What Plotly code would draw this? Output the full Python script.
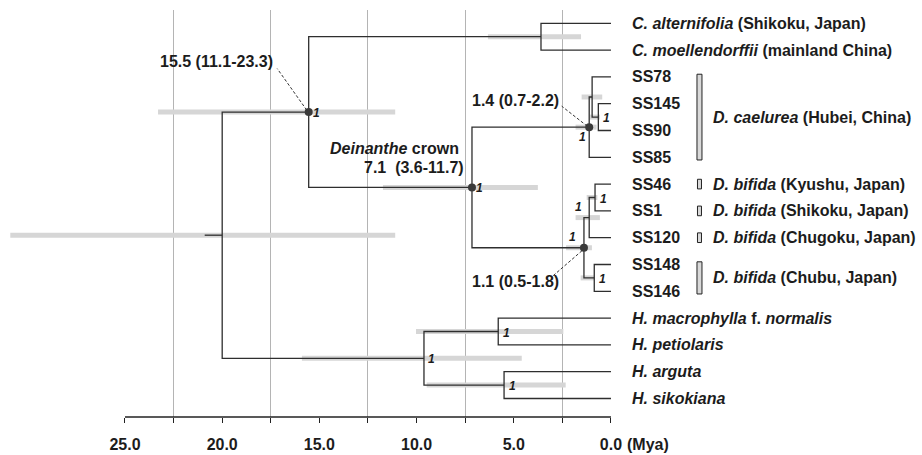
import plotly.graph_objects as go

# ---------------- data ----------------
leaf_names = ["C. alternifolia", "C. moellendorffii", "SS78", "SS145", "SS90", "SS85",
              "SS46", "SS1", "SS120", "SS148", "SS146",
              "H. macrophylla f. normalis", "H. petiolaris", "H. arguta", "H. sikokiana"]
leaf_labels = ["<i>C. alternifolia</i> (Shikoku, Japan)",
               "<i>C. moellendorffii</i> (mainland China)",
               "SS78", "SS145", "SS90", "SS85", "SS46", "SS1", "SS120", "SS148", "SS146",
               "<i>H. macrophylla</i> f. <i>normalis</i>",
               "<i>H. petiolaris</i>", "<i>H. arguta</i>", "<i>H. sikokiana</i>"]

node_ids = ["root", "N15", "Ccl", "Dein", "A", "B", "C2", "D", "E", "F", "G", "H", "I", "J"]
node_children = [("N15", "H"), ("Ccl", "Dein"), ("C. alternifolia", "C. moellendorffii"),
                 ("A", "D"), ("B", "SS85"), ("SS78", "C2"), ("SS145", "SS90"),
                 ("E", "G"), ("F", "SS120"), ("SS46", "SS1"), ("SS148", "SS146"),
                 ("I", "J"), ("H. macrophylla f. normalis", "H. petiolaris"),
                 ("H. arguta", "H. sikokiana")]
node_age = [20.0, 15.55, 3.6, 7.15, 1.12, 0.97, 0.65, 1.39, 1.12, 0.82, 0.86, 9.62, 5.8, 5.5]
hpd_old = [30.9, 23.3, 6.33, 11.73, 1.82, 1.51, 1.08, 2.31, 1.82, 1.25, 1.56, 15.9, 10.03, 9.48]
hpd_young = [11.1, 11.1, 1.54, 3.76, 0.74, 0.45, 0.57, 0.98, 0.57, 0.70, 0.86, 4.59, 2.45, 2.33]
support = ["", "1", "", "1", "1", "", "1", "1", "1", "1", "1", "1", "1", "1"]
support_side = ["", "r", "", "r", "bl", "", "r", "tl", "tl", "r", "r", "r", "r", "r"]
dotted_nodes = ["N15", "Dein", "A", "D"]
root_stem_age = 20.9

age_notes = {"N15": "15.5 (11.1-23.3)", "A": "1.4 (0.7-2.2)", "D": "1.1 (0.5-1.8)"}
crown_title = "<i>Deinanthe</i> crown"
crown_value = "7.1\u00a0 (3.6-11.7)"

groups = [("<i>D. caelurea</i> (Hubei, China)", ["SS78", "SS145", "SS90", "SS85"]),
          ("<i>D. bifida</i> (Kyushu, Japan)", ["SS46"]),
          ("<i>D. bifida</i> (Shikoku, Japan)", ["SS1"]),
          ("<i>D. bifida</i> (Chugoku, Japan)", ["SS120"]),
          ("<i>D. bifida</i> (Chubu, Japan)", ["SS148", "SS146"])]

major_ticks = [25.0, 20.0, 15.0, 10.0, 5.0, 0.0]
major_labels = ["25.0", "20.0", "15.0", "10.0", "5.0", "0.0"]
minor_ticks = [22.5, 17.5, 12.5, 7.5, 2.5]
axis_unit = "(Mya)"

# ---------------- layout computation ----------------
FONT = "Liberation Sans, Arial, Helvetica, sans-serif"
TXT = "#1c1c1c"
LINE = "#2e2e2e"
BAR = "#d6d6d6"

children = dict(zip(node_ids, node_children))
age = {n: 0.0 for n in leaf_names}
age.update(dict(zip(node_ids, node_age)))
ypos = {n: float(i) for i, n in enumerate(leaf_names)}


def gety(n):
    if n in ypos:
        return ypos[n]
    ys = [gety(c) for c in children[n]]
    ypos[n] = sum(ys) / len(ys)
    return ypos[n]


gety("root")

fig = go.Figure()

# HPD bars
bx, by = [], []
for n, lo, hi in zip(node_ids, hpd_old, hpd_young):
    bx += [lo, hi, None]
    by += [ypos[n], ypos[n], None]
fig.add_trace(go.Scatter(x=bx, y=by, mode="lines", line=dict(color=BAR, width=5),
                         hoverinfo="skip", showlegend=False))

# tree branches
tx, ty = [], []
for n in node_ids:
    c1, c2 = children[n]
    tx += [age[c1], age[n], age[n], age[c2], None]
    ty += [ypos[c1], ypos[c1], ypos[c2], ypos[c2], None]
tx += [root_stem_age, age["root"], None]
ty += [ypos["root"], ypos["root"], None]
fig.add_trace(go.Scatter(x=tx, y=ty, mode="lines", line=dict(color=LINE, width=1.3),
                         hoverinfo="skip", showlegend=False))

# node dots
fig.add_trace(go.Scatter(x=[age[n] for n in dotted_nodes], y=[ypos[n] for n in dotted_nodes],
                         mode="markers", marker=dict(size=8, color="#3a3a3a"),
                         hoverinfo="skip", showlegend=False))

ann = []
shapes = []

# support values
for n, s, side in zip(node_ids, support, support_side):
    if not s:
        continue
    dx, dy = {"r": (8, -1), "bl": (-7, -10), "tl": (-11, 11)}[side]
    ann.append(dict(x=age[n], y=ypos[n], text="<b><i>%s</i></b>" % s, showarrow=False,
                    xshift=dx, yshift=dy, font=dict(size=12, color=TXT, family=FONT)))

# age notes with dashed leaders
note_geom = {"N15": ((-92, 51), (-2, 2), (-31.5, 43.5)),
             "A": ((-74, 27), (-2, 1), (-27.5, 21)),
             "D": ((-68, -34), (-2, -3), (-32, -29))}
for n, txt in age_notes.items():
    (lx, ly), (a0x, a0y), (a1x, a1y) = note_geom[n]
    ann.append(dict(x=age[n], y=ypos[n], text="<b>%s</b>" % txt, showarrow=False,
                    xshift=lx, yshift=ly, font=dict(size=16, color=TXT, family=FONT)))
    shapes.append(dict(type="line", xref="x", yref="y", xsizemode="pixel", ysizemode="pixel",
                       xanchor=age[n], yanchor=ypos[n], x0=a0x, y0=a0y, x1=a1x, y1=a1y,
                       line=dict(color="#333333", width=1, dash="3px,2px")))

# Deinanthe crown note
ann.append(dict(x=age["Dein"], y=ypos["Dein"], text="<b>%s</b>" % crown_title, showarrow=False,
                xanchor="right", xshift=-11, yshift=39, font=dict(size=16, color=TXT, family=FONT)))
ann.append(dict(x=age["Dein"], y=ypos["Dein"], text="<b>%s</b>" % crown_value, showarrow=False,
                xanchor="right", xshift=-6, yshift=19.5, font=dict(size=16, color=TXT, family=FONT)))

# leaf labels
for n, lab in zip(leaf_names, leaf_labels):
    ann.append(dict(x=0, y=ypos[n], text="<b>%s</b>" % lab, showarrow=False, xanchor="left",
                    xshift=19, font=dict(size=16, color=TXT, family=FONT)))

# group bars and labels
for lab, members in groups:
    ys = [ypos[m] for m in members]
    pad = 0.1 if len(members) > 1 else 0.18
    w = (86, 91) if len(members) > 1 else (86.5, 90.5)
    shapes.append(dict(type="rect", xref="x", yref="y", xsizemode="pixel", xanchor=0,
                       x0=w[0], x1=w[1], y0=min(ys) - pad, y1=max(ys) + pad,
                       fillcolor="#d9d9d9", line=dict(color="#222222", width=1)))
    ann.append(dict(x=0, y=sum(ys) / len(ys), text="<b>%s</b>" % lab, showarrow=False,
                    xanchor="left", xshift=100, font=dict(size=16, color=TXT, family=FONT)))

# axis line and unit
shapes.append(dict(type="line", xref="x", yref="paper", x0=max(major_ticks), x1=min(major_ticks),
                   y0=0, y1=0, line=dict(color="#222222", width=1.3)))
ann.append(dict(x=0, y=0, xref="x", yref="paper", text="<b>%s</b>" % axis_unit, showarrow=False,
                xanchor="left", yanchor="middle", xshift=14, yshift=-27,
                font=dict(size=16, color=TXT, family=FONT)))

fig.update_layout(
    width=922, height=455,
    margin=dict(l=0, r=0, t=10, b=38),
    plot_bgcolor="white", paper_bgcolor="white",
    annotations=ann, shapes=shapes,
    xaxis=dict(range=[31.43, -16.0], showgrid=False, zeroline=False, showline=False,
               tickmode="array", tickvals=major_ticks,
               ticktext=["<b>%s</b>" % t for t in major_labels],
               ticks="outside", ticklen=5, tickwidth=1.3, tickcolor="#222222",
               ticklabelstandoff=8,
               tickfont=dict(size=16, color=TXT, family=FONT),
               minor=dict(tickmode="array", tickvals=minor_ticks, ticks="outside", ticklen=5,
                          tickwidth=1.3, tickcolor="#222222", showgrid=True,
                          gridcolor="#b4b4b4", gridwidth=1)),
    yaxis=dict(range=[14.69, -0.496], visible=False, showgrid=False, zeroline=False),
)

fig.write_html("out.html", config={"displayModeBar": False},
               post_script="document.body.style.margin='0px';document.body.style.overflow='hidden';")
